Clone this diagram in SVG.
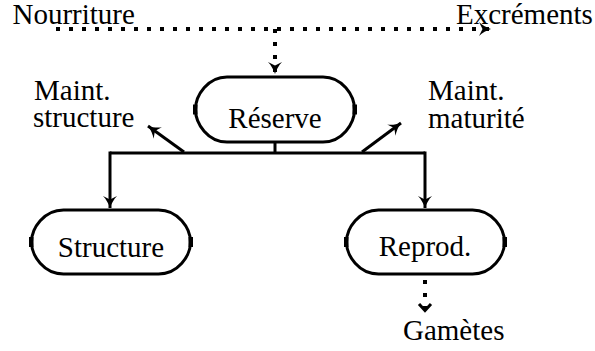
<svg xmlns="http://www.w3.org/2000/svg" width="595" height="351" viewBox="0 0 595 351">
<style>
.t{font-family:'Liberation Serif','Times New Roman',Times,serif;font-size:29px;fill:#000}
.node{fill:none;stroke:#000;stroke-width:3}
.tick{fill:#000}
.c{fill:none;stroke:#000;stroke-width:3}
.d{fill:none;stroke:#000;stroke-width:4;stroke-dasharray:4 9}
.mid{text-anchor:middle}
</style>
<defs>
<marker id="ah" markerUnits="userSpaceOnUse" viewBox="-14 -8 15 16" refX="0" refY="0" markerWidth="15" markerHeight="16" orient="auto">
<path d="M0,0 C-4,-1.2 -9,-4 -12,-7 L-8.5,0 L-12,7 C-9,4 -4,1.2 0,0 Z" fill="#000"/>
</marker>
<marker id="cv" markerUnits="userSpaceOnUse" viewBox="-12 -8 14 16" refX="0" refY="0" markerWidth="14" markerHeight="16" orient="auto">
<path d="M-7,-6 L-0.5,0 L-7,6" fill="none" stroke="#000" stroke-width="3"/>
</marker>
</defs>
<g id="connectors">
<path class="d" d="M56,29 H491" marker-end="url(#ah)"/>
<path class="d" d="M275,29 V74" marker-end="url(#ah)"/>
<path class="c" d="M275,142 V153"/>
<path class="c" d="M110,153 H425"/>
<path class="c" d="M110,151.5 V208" marker-end="url(#ah)"/>
<path class="c" d="M425,151.5 V208" marker-end="url(#ah)"/>
<path class="c" d="M184,152 L148,126" marker-end="url(#ah)"/>
<path class="c" d="M362,152 L401,123" marker-end="url(#ah)"/>
<path class="d" d="M425,280 V311" marker-end="url(#cv)"/>
</g>
<g id="reserve">
<path class="node" d="M227,77 H323 C342,77 354.5,95 354.5,109.5 C354.5,124 342,142 323,142 H227 C208,142 195.5,124 195.5,109.5 C195.5,95 208,77 227,77 Z"/>
<rect class="tick" x="193" y="104.5" width="4.5" height="10"/>
<rect class="tick" x="352.5" y="104.5" width="4.5" height="10"/>
<text class="t mid" x="275" y="128">Réserve</text>
</g>
<g id="structure">
<path class="node" d="M63.5,210 H158.5 C178,210 190.5,228 190.5,242 C190.5,256 178,274 158.5,274 H63.5 C44,274 31.5,256 31.5,242 C31.5,228 44,210 63.5,210 Z"/>
<rect class="tick" x="29" y="237" width="4.5" height="10"/>
<rect class="tick" x="188.5" y="237" width="4.5" height="10"/>
<text class="t mid" x="111" y="257">Structure</text>
</g>
<g id="reprod">
<path class="node" d="M378.5,210 H472.5 C492,210 504.5,228 504.5,242 C504.5,256 492,274 472.5,274 H378.5 C359,274 346.5,256 346.5,242 C346.5,228 359,210 378.5,210 Z"/>
<rect class="tick" x="344" y="237" width="4.5" height="10"/>
<rect class="tick" x="502.5" y="237" width="4.5" height="10"/>
<text class="t mid" x="425" y="256">Reprod.</text>
</g>
<g id="labels">
<text class="t" x="12.5" y="24">Nourriture</text>
<text class="t" x="456" y="24">Excréments</text>
<text class="t" x="34" y="100">Maint.</text>
<text class="t" x="33" y="127">structure</text>
<text class="t" x="428" y="100">Maint.</text>
<text class="t" x="428" y="128">maturité</text>
<text class="t" x="403" y="340">Gamètes</text>
</g>
</svg>
